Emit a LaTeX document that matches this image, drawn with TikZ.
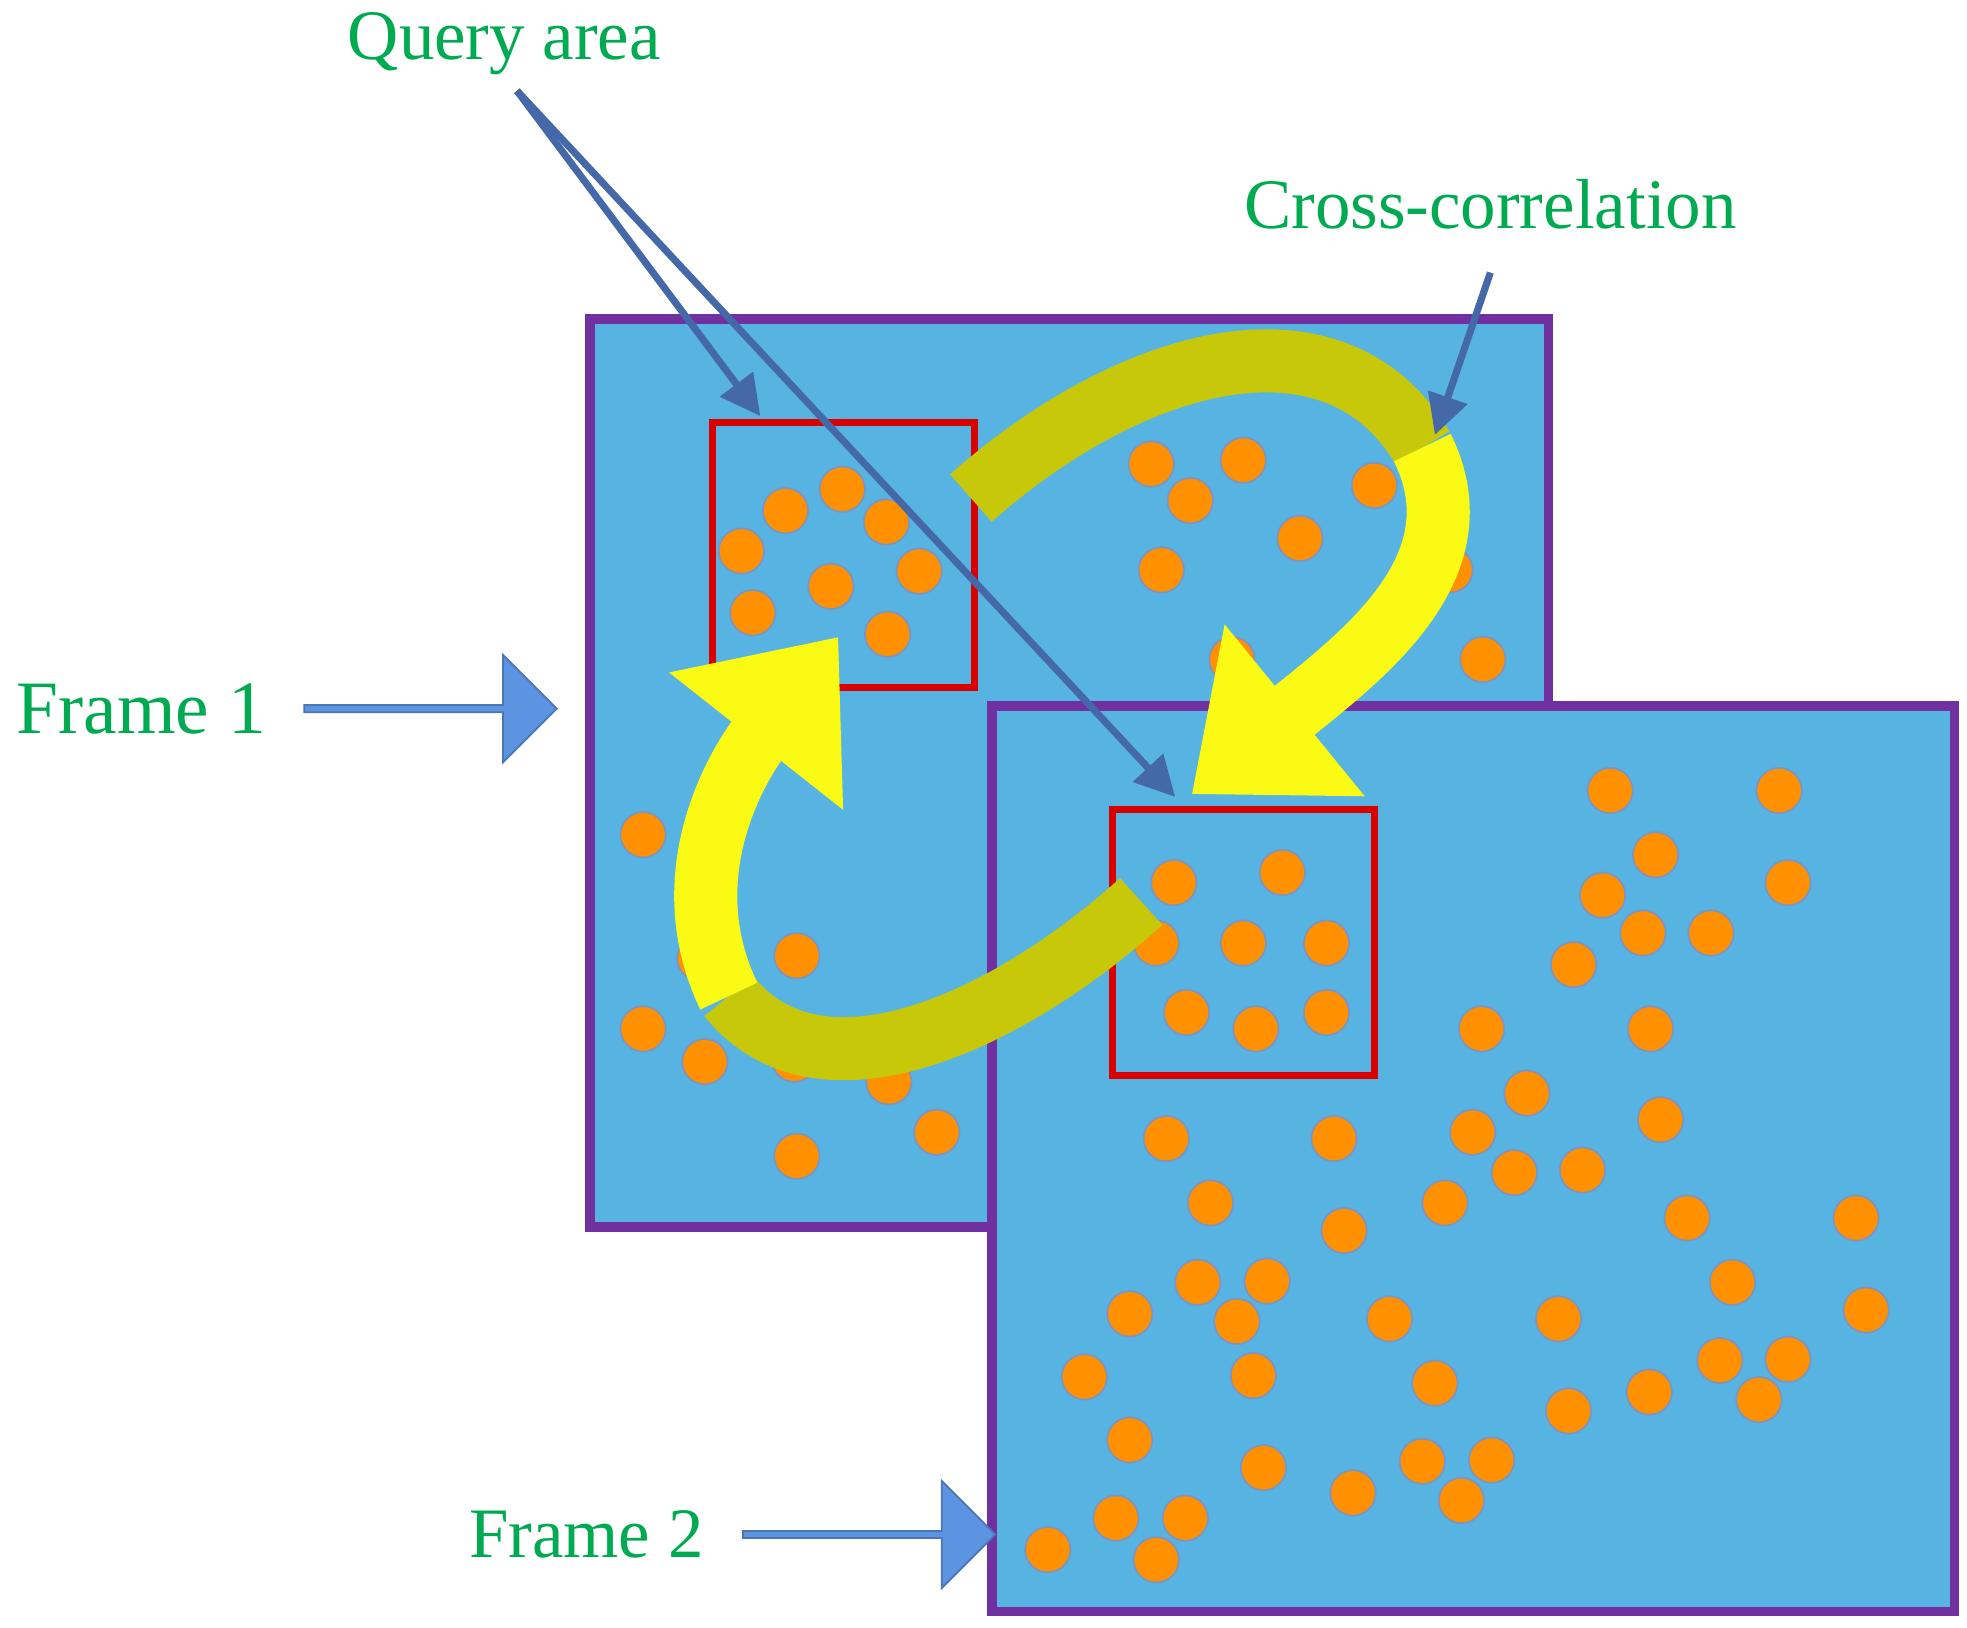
\documentclass[tikz,border=0pt]{standalone}
\usepackage{fontspec}
\setmainfont{Liberation Serif}
\usetikzlibrary{arrows.meta,shapes.arrows}
\definecolor{frameblue}{RGB}{87,179,226}
\definecolor{framepurple}{RGB}{112,48,160}
\definecolor{dotorange}{RGB}{255,145,0}
\definecolor{labelgreen}{RGB}{0,170,80}
\definecolor{pointerblue}{RGB}{68,104,168}
\definecolor{bandolive}{RGB}{200,200,10}
\definecolor{bandyellow}{RGB}{250,250,20}
\definecolor{blockblue}{RGB}{92,148,226}
\begin{document}
\begin{tikzpicture}[x=0.01cm,y=-0.01cm,>={Triangle[length=9pt,width=9pt]}]
\tikzset{
  frame/.style={draw=framepurple,line width=2.2pt,fill=frameblue},
  query/.style={draw=red!85!black,line width=1.6pt},
  dot/.style={fill=dotorange,draw=pointerblue!70,line width=0.4pt},
  label/.style={text=labelgreen,font=\fontsize{16}{18}\selectfont},
  pointer/.style={->,draw=pointerblue,line width=1.6pt},
  band/.style={line width=0.5cm},
  block/.style={single arrow,draw=blockblue!80!black,fill=blockblue,minimum height=2cm,
    minimum width=0.85cm,single arrow head extend=0.1cm,inner sep=0pt}
}
\useasboundingbox (0,0) rectangle (1560,1291);
% frame 1
\draw[frame] (468,253) rectangle (1228,973);
\foreach \p in {(913,368),(986,365),(944,397),(1090,385),(1031,427),(921,452),(1150,452),
  (977,523),(1176,523),(623,405),(668,388),(703,414),(588,437),(659,465),(729,453),
  (597,486),(704,503),(510,662),(632,758),(555,760),(510,816),(559,842),(632,917),
  (743,898),(705,858),(630,840)}
  \draw[dot] \p circle (18);
\draw[query] (565,335) rectangle (773,545);
% frame 2
\draw[frame] (787,560) rectangle (1550,1278);
\foreach \p in {(931,700),(1017,692),(917,748),(986,748),(1052,748),(941,803),(996,816),
  (1052,803),(1277,627),(1411,627),(1313,678),(1418,700),(1271,710),(1303,740),(1357,740),
  (1248,765),(1175,816),(1309,816),(1211,867),(1317,888),(925,903),(1058,903),(1168,898),
  (1201,930),(1255,928),(960,954),(1146,954),(1066,976),(1338,966),(1472,966),(950,1017),
  (1005,1016),(1374,1017),(896,1042),(981,1048),(1102,1046),(1236,1046),(1480,1039),
  (860,1092),(994,1091),(1138,1097),(1364,1079),(1418,1078),(1395,1110),(1244,1119),
  (1308,1104),(896,1142),(1002,1164),(1073,1184),(1128,1159),(1183,1158),(1159,1190),
  (885,1204),(940,1204),(917,1237),(831,1229)}
  \draw[dot] \p circle (18);
\draw[query] (882,642) rectangle (1090,853);
% correlation bands
\draw[band,draw=bandolive] (770,395) .. controls (900,280) and (1060,240) .. (1128,355);
\draw[band,draw=bandyellow,-{Triangle[length=30pt,width=48pt]}] (1128,355)
  .. controls (1175,450) and (1080,520) .. (945,630);
\draw[band,draw=bandolive] (905,715) .. controls (800,810) and (650,880) .. (578,790);
\draw[band,draw=bandyellow,-{Triangle[length=30pt,width=48pt]}] (578,790)
  .. controls (530,690) and (590,600) .. (665,505);
% labels and pointers
\node[label] (query) at (400,35) {Query area};
\coordinate (qfoot) at (410,72);
\coordinate (q1) at (603,330);
\coordinate (q2) at (932,632);
\draw[pointer] (qfoot) -- (q1);
\draw[pointer] (qfoot) -- (q2);
\node[label] (cross) at (1182,162) {Cross-correlation};
\coordinate (c1) at (1138,345);
\draw[pointer] (cross.south) ++(0,22) -- (c1);
\node[label,font=\fontsize{17}{19}\selectfont] (frame1) at (112,562) {Frame 1};
\node[block] (arrow1) at (340,562) {};
\node[label] (frame2) at (465,1217) {Frame 2};
\node[block] (arrow2) at (688,1217) {};
\end{tikzpicture}
\end{document}
